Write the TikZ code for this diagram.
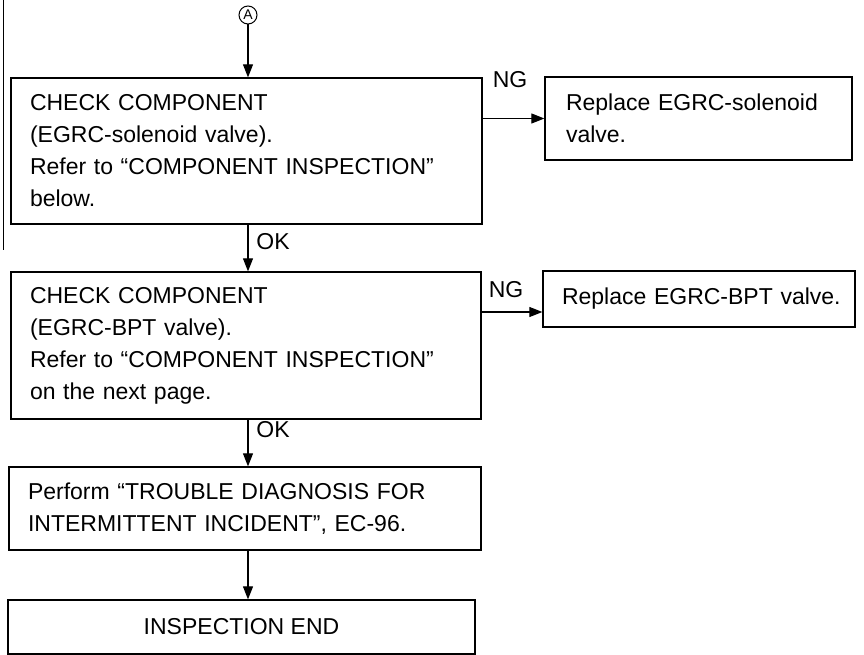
\documentclass[tikz,border=0pt]{standalone}
\usepackage{fontspec}
\setmainfont{Liberation Sans}
\usetikzlibrary{arrows.meta}
\begin{document}
\begin{tikzpicture}[x=1pt,y=-1pt,
  box/.style={draw, line width=1.3pt, align=left, inner xsep=19pt, inner ysep=0pt,
    font=\fontsize{23}{32}\selectfont},
  conn/.style={line width=1.1pt, -{Triangle[length=13pt,width=10pt]}},
  lbl/.style={font=\fontsize{23}{32}\selectfont, inner sep=0pt}]
\useasboundingbox (0,0) rectangle (864,655);
\draw[line width=1pt] (3,0) -- (3,250);
\node[circle, draw, line width=1pt, inner sep=0pt, minimum size=18pt, font=\fontsize{14}{14}\selectfont] (A) at (248,15) {A};
\node[box, text width=433pt, minimum height=146pt] (c1) at (246.5,151)
  {CHECK COMPONENT\\(EGRC-solenoid valve).\\Refer to “COMPONENT INSPECTION”\\below.};
\node[box, text width=265pt, minimum height=83pt, inner xsep=21pt] (r1) at (698.5,118.5)
  {Replace EGRC-solenoid\\valve.};
\node[box, text width=432pt, minimum height=147pt] (c2) at (246,345.5)
  {CHECK COMPONENT\\(EGRC-BPT valve).\\Refer to “COMPONENT INSPECTION”\\on the next page.};
\node[box, text width=284pt, minimum height=56pt, inner xsep=14pt] (r2) at (699,299)
  {\hspace*{5pt}Replace EGRC-BPT valve.};
\node[box, text width=434pt, minimum height=83pt] (c3) at (245,508.5)
  {Perform “TROUBLE DIAGNOSIS FOR\\INTERMITTENT INCIDENT”, EC-96.};
\node[box, align=center, minimum width=467pt, minimum height=54pt] (c4) at (241.5,627)
  {INSPECTION END};
\coordinate (a2) at ([yshift=-13pt]r2.west);
\draw[conn] (A) -- (A |- c1.north);
\draw[conn] (c1.east |- r1.west) -- (r1.west);
\node[lbl] (ng1) at (510,80) {NG};
\draw[conn] (c2.east |- a2) -- (a2);
\node[lbl] (ng2) at (506,290) {NG};
\draw[conn] (A |- c1.south) -- (A |- c2.north);
\node[lbl] (ok1) at (273,242) {OK};
\draw[conn] (A |- c2.south) -- (A |- c3.north);
\node[lbl] (ok2) at (273,430) {OK};
\draw[conn] (A |- c3.south) -- (A |- c4.north);
\end{tikzpicture}
\end{document}
